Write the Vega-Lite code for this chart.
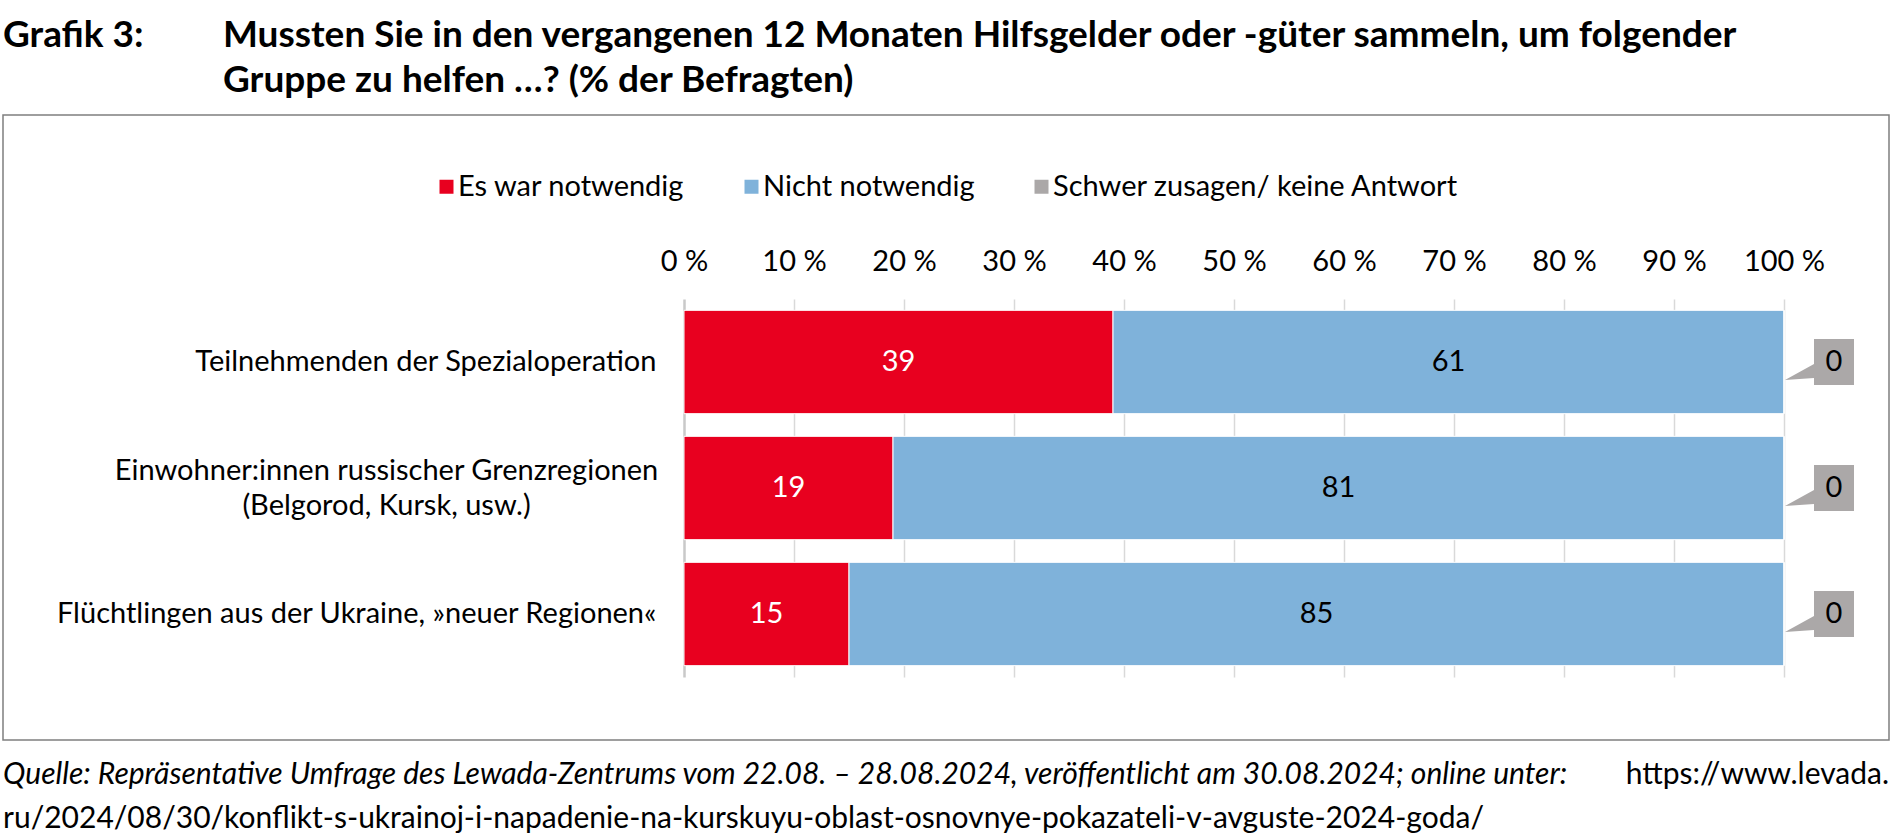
{
  "$schema": "https://vega.github.io/schema/vega-lite/v6.json",
  "background": "white",
  "padding": {"left": 2, "top": 0, "right": 0, "bottom": 0},
  "config": {"font": "Lato", "view": {"stroke": null}},
  "spacing": 15,
  "vconcat": [
    {
      "spacing": 20,
      "hconcat": [
        {
          "width": 200,
          "height": 98,
          "data": {"values": [{"t": "Grafik 3:"}]},
          "mark": {"type": "text", "align": "left", "baseline": "alphabetic", "fontSize": 37, "fontWeight": "bold", "color": "black", "x": 0, "y": 47},
          "encoding": {"text": {"field": "t", "type": "nominal"}}
        },
        {
          "width": 1666,
          "height": 98,
          "data": {"values": [{"t": "Mussten Sie in den vergangenen 12 Monaten Hilfsgelder oder -güter sammeln, um folgender|Gruppe zu helfen …? (% der Befragten)"}]},
          "mark": {"type": "text", "align": "left", "baseline": "alphabetic", "fontSize": 37, "fontWeight": "bold", "color": "black", "lineBreak": "|", "lineHeight": 45, "x": 0, "y": 47},
          "encoding": {"text": {"field": "t", "type": "nominal"}}
        }
      ]
    },
    {
      "width": 1886,
      "height": 625,
      "view": {"stroke": "#7f7f7f", "strokeWidth": 1.5},
      "data": {"values": [
        {"group": "Teilnehmenden der Spezialoperation", "answer": "Es war notwendig", "value": 39},
        {"group": "Teilnehmenden der Spezialoperation", "answer": "Nicht notwendig", "value": 61},
        {"group": "Teilnehmenden der Spezialoperation", "answer": "Schwer zusagen/ keine Antwort", "value": 0},
        {"group": "Einwohner:innen russischer Grenzregionen (Belgorod, Kursk, usw.)", "answer": "Es war notwendig", "value": 19},
        {"group": "Einwohner:innen russischer Grenzregionen (Belgorod, Kursk, usw.)", "answer": "Nicht notwendig", "value": 81},
        {"group": "Einwohner:innen russischer Grenzregionen (Belgorod, Kursk, usw.)", "answer": "Schwer zusagen/ keine Antwort", "value": 0},
        {"group": "Flüchtlingen aus der Ukraine, »neuer Regionen«", "answer": "Es war notwendig", "value": 15},
        {"group": "Flüchtlingen aus der Ukraine, »neuer Regionen«", "answer": "Nicht notwendig", "value": 85},
        {"group": "Flüchtlingen aus der Ukraine, »neuer Regionen«", "answer": "Schwer zusagen/ keine Antwort", "value": 0}
      ]},
      "resolve": {"scale": {"y": "independent"}, "axis": {"y": "independent"}},
      "layer": [
        {
          "encoding": {
            "y": {
              "field": "group",
              "type": "nominal",
              "sort": ["Teilnehmenden der Spezialoperation", "Einwohner:innen russischer Grenzregionen (Belgorod, Kursk, usw.)", "Flüchtlingen aus der Ukraine, »neuer Regionen«"],
              "scale": {"range": [184, 562], "paddingInner": 0.18, "paddingOuter": 0.09},
              "axis": {
                "title": null,
                "orient": "left",
                "domain": false,
                "ticks": false,
                "tickSize": 0,
                "labelFontSize": 29,
                "labelColor": "black",
                "labelLineHeight": 35,
                "labelLimit": 0,
                "labelAlign": "right",
                "labelBaseline": "middle",
                "labelPadding": -653,
                "labelExpr": "indexof(datum.label, 'Einwohner') === 0 ? '' : datum.label"
              }
            },
            "x": {
              "field": "value", "type": "quantitative", "stack": "zero",
              "scale": {"domain": [0, 100], "range": [681, 1781], "nice": false},
              "axis": {
                "orient": "top", "title": null,
                "values": [0, 10, 20, 30, 40, 50, 60, 70, 80, 90, 100],
                "labelExpr": "datum.value + ' %'",
                "domain": false, "ticks": false, "tickSize": 0,
                "grid": true,
                "gridColor": {"condition": {"test": "datum.value === 0", "value": "#c9c9c9"}, "value": "#d9d9d9"},
                "gridWidth": {"condition": {"test": "datum.value === 0", "value": 2.5}, "value": 1.5},
                "labelFontSize": 29, "labelColor": "black", "labelPadding": -155,
                "labelBaseline": "alphabetic", "labelFlush": false, "labelOverlap": false
              }
            }
          },
          "layer": [
            {
              "mark": {"type": "bar", "stroke": "white", "strokeWidth": 1},
              "encoding": {
                "color": {
                  "field": "answer", "type": "nominal",
                  "scale": {"domain": ["Es war notwendig", "Nicht notwendig", "Schwer zusagen/ keine Antwort"], "range": ["#e8001f", "#7fb2da", "#aba8a8"]},
                  "legend": {
                    "orient": "none", "legendX": 429, "legendY": 172, "direction": "horizontal",
                    "title": null, "symbolType": "square", "symbolSize": 196, "symbolStrokeWidth": 0,
                    "labelFontSize": 29, "labelColor": "black", "labelOffset": -3, "columnPadding": 52, "labelLimit": 0
                  }
                }
              }
            },
            {
              "transform": [{"filter": "datum.answer !== 'Schwer zusagen/ keine Antwort'"}],
              "mark": {"type": "text", "fontSize": 29, "align": "center", "baseline": "middle"},
              "encoding": {
                "x": {
                  "field": "value", "type": "quantitative", "stack": "zero", "bandPosition": 0.5,
                  "scale": {"domain": [0, 100], "range": [681, 1781], "nice": false}
                },
                "detail": {"field": "answer", "type": "nominal"},
                "text": {"field": "value", "type": "quantitative"},
                "color": {"condition": {"test": "datum.answer === 'Es war notwendig'", "value": "white"}, "value": "black"}
              }
            },
            {
              "transform": [
                {"stack": "value", "groupby": ["group"], "sort": [{"field": "answer", "order": "ascending"}], "as": ["x0", "x1"]},
                {"filter": "datum.answer === 'Schwer zusagen/ keine Antwort'"}
              ],
              "mark": {"type": "point", "shape": "M0.6,-0.46L1.4,-0.46L1.4,0.46L0.6,0.46L0.6,0.32L0.02,0.36L0.6,0.04Z", "size": 10000, "filled": true, "fill": "#aba8a8", "strokeWidth": 0, "opacity": 1},
              "encoding": {
                "x": {"field": "x1", "type": "quantitative", "scale": {"domain": [0, 100], "range": [681, 1781], "nice": false}}
              }
            },
            {
              "transform": [
                {"stack": "value", "groupby": ["group"], "sort": [{"field": "answer", "order": "ascending"}], "as": ["x0", "x1"]},
                {"filter": "datum.answer === 'Schwer zusagen/ keine Antwort'"}
              ],
              "mark": {"type": "text", "dx": 50, "fontSize": 29, "align": "center", "baseline": "middle", "color": "black"},
              "encoding": {
                "x": {"field": "x1", "type": "quantitative", "scale": {"domain": [0, 100], "range": [681, 1781], "nice": false}},
                "text": {"field": "value", "type": "quantitative"}
              }
            }
          ]
        },
        {
          "transform": [{"filter": "datum.answer === 'Es war notwendig'"}],
          "mark": {"type": "text", "fontSize": 1, "opacity": 0},
          "encoding": {
            "text": {"value": ""},
            "y": {
              "field": "group",
              "type": "nominal",
              "sort": ["Teilnehmenden der Spezialoperation", "Einwohner:innen russischer Grenzregionen (Belgorod, Kursk, usw.)", "Flüchtlingen aus der Ukraine, »neuer Regionen«"],
              "scale": {"domain": ["Teilnehmenden der Spezialoperation", "Einwohner:innen russischer Grenzregionen (Belgorod, Kursk, usw.)", "Flüchtlingen aus der Ukraine, »neuer Regionen«"], "range": [184, 562], "paddingInner": 0.18, "paddingOuter": 0.09},
              "axis": {
                "title": null,
                "orient": "left",
                "domain": false,
                "ticks": false,
                "tickSize": 0,
                "grid": false,
                "labelFontSize": 29,
                "labelColor": "black",
                "labelLineHeight": 35,
                "labelLimit": 0,
                "labelAlign": "center",
                "labelBaseline": "line-bottom",
                "labelPadding": -383,
                "labelExpr": "indexof(datum.label, 'Einwohner') === 0 ? [slice(datum.label, 0, indexof(datum.label, ' (')), slice(datum.label, indexof(datum.label, ' (') + 1)] : ''"
              }
            }
          }
        }
      ]
    },
    {
      "width": 1886,
      "height": 88,
      "data": {"values": [
        {"part": "quelle", "t": "Quelle: Repräsentative Umfrage des Lewada-Zentrums vom 22.08. – 28.08.2024, veröffentlicht am 30.08.2024; online unter:"},
        {"part": "url1", "t": "https://www.levada."},
        {"part": "url2", "t": "ru/2024/08/30/konflikt-s-ukrainoj-i-napadenie-na-kurskuyu-oblast-osnovnye-pokazateli-v-avguste-2024-goda/"}
      ]},
      "layer": [
        {
          "transform": [{"filter": "datum.part === 'quelle'"}],
          "mark": {"type": "text", "align": "left", "baseline": "alphabetic", "fontSize": 30, "fontStyle": "italic", "color": "black", "x": 0, "y": 28},
          "encoding": {"text": {"field": "t", "type": "nominal"}}
        },
        {
          "transform": [{"filter": "datum.part === 'url1'"}],
          "mark": {"type": "text", "align": "right", "baseline": "alphabetic", "fontSize": 30, "color": "black", "y": 28},
          "encoding": {"text": {"field": "t", "type": "nominal"}, "x": {"value": "width"}}
        },
        {
          "transform": [{"filter": "datum.part === 'url2'"}],
          "mark": {"type": "text", "align": "left", "baseline": "alphabetic", "fontSize": 30, "color": "black", "x": 0, "y": 72},
          "encoding": {"text": {"field": "t", "type": "nominal"}}
        }
      ]
    }
  ]
}
